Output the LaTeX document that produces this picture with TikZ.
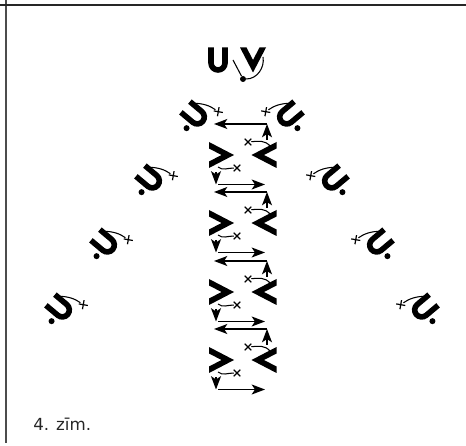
\documentclass[tikz,border=0pt]{standalone}
\usepackage{fontspec}
\setmainfont{DejaVu Sans}
\usetikzlibrary{arrows.meta,shapes.misc}
\newcommand{\ushape}{\draw[line width=4.2pt] (-7,12.5) -- (-7,-3) arc[start angle=180, end angle=360, radius=7] -- (7,12.5);}
\tikzset{
  thinline/.style={line width=0.8pt},
  flow/.style={line width=1.1pt, -{Stealth[length=10pt,width=7.5pt,inset=2.5pt]}},
  crossmark/.style={cross out, draw, line width=0.9pt, inner sep=0pt, minimum size=4pt},
  dotmark/.style={circle, fill=black, inner sep=0pt, minimum size=4.5pt},
  ulett/.pic={\ushape},
  vlett/.pic={
    \fill (-12.5,13) -- (12.5,0) -- (-12.5,-13) -- (-12.5,-6.5) -- (0,0) -- (-12.5,6.5) -- cycle;
  },
  uatom/.pic={
    \ushape
    \node[dotmark] (dot) at (-15.5,-2) {};
    \coordinate (leg) at (7,10);
    \node[crossmark, rotate=35] (star) at (17.5,-15.7) {};
    \draw[thinline] (leg) to[out=-50, in=95] (star);
  },
}
\begin{document}
\begin{tikzpicture}[x=0.75pt, y=0.75pt]
\useasboundingbox (0,0) rectangle (466,445);
% frame
\draw[line width=1.5pt, black!70] (5.5,445) -- (5.5,2);
\draw[line width=1.3pt, black!85] (0,440) -- (466,440);
% top pair
\pic at (218,385) {ulett};
\pic[rotate=-90] at (253,385) {vlett};
\node[dotmark] (topdot) at (243,366) {};
\coordinate (topu) at (233,385);
\coordinate (topv) at (263,388);
\draw[thinline] (topdot) -- (topu);
\draw[thinline] (topdot) to[out=0, in=-80] (topv);
% side atoms
\foreach \n/\x/\y in {1/195/330,2/150/266,3/105/202,4/60/137} {
  \pic[rotate=50] (l\n) at (\x,\y) {uatom};
  \pic[xscale=-1, rotate=50] (r\n) at (484-\x,\y) {uatom};
}
% middle column
\foreach \n/\y in {1/290,2/222,3/153,4/85} {
  \pic at (221.5,\y) {vlett};
  \pic[rotate=180] at (264,\y) {vlett};
  \coordinate (a\n) at (267,\y+31);
  \coordinate (b\n) at (214,\y+31);
  \coordinate (c\n) at (267,\y+15);
  \coordinate (d\n) at (270,\y+9);
  \node[crossmark] (e\n) at (248,\y+13) {};
  \coordinate (f\n) at (218,\y-12);
  \node[crossmark] (g\n) at (237,\y-13) {};
  \coordinate (h\n) at (216,\y-17);
  \coordinate (i\n) at (216,\y-29.5);
  \coordinate (j\n) at (218,\y-29.5);
  \coordinate (k\n) at (265,\y-29.5);
  \draw[flow] (a\n) -- (b\n);
  \draw[flow] (c\n) -- (a\n);
  \draw[thinline] (d\n) to[out=130, in=5] (e\n);
  \draw[thinline] (f\n) to[out=-40, in=180] (g\n);
  \draw[flow] (h\n) -- (i\n);
  \draw[flow] (j\n) -- (k\n);
}
% caption
\node[anchor=base west, inner sep=0pt, font=\fontsize{12.5pt}{14pt}\selectfont, text=black!85] (caption) at (33,15) {4. zīm.};
\end{tikzpicture}
\end{document}
